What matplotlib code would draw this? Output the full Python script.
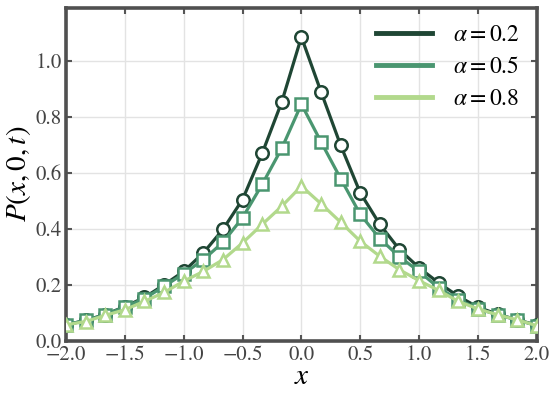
import numpy as np
import matplotlib
matplotlib.use("Agg")
import matplotlib.pyplot as plt
from matplotlib.ticker import FuncFormatter

plt.rcParams['font.family'] = ['STIXGeneral', 'DejaVu Serif']
plt.rcParams['mathtext.fontset'] = 'stix'

x = np.linspace(-2.0, 2.0, 25)

# alpha = 0.2 (circles)
p_a02 = [0.057, 0.073, 0.094, 0.122, 0.155, 0.200, 0.248, 0.314, 0.398, 0.505, 0.670, 0.854,
         1.086,
         0.890, 0.699, 0.529, 0.416, 0.326, 0.261, 0.207, 0.159, 0.120, 0.095, 0.075, 0.056]
# alpha = 0.5 (squares)
p_a05 = [0.057, 0.073, 0.093, 0.121, 0.151, 0.195, 0.240, 0.290, 0.352, 0.440, 0.559, 0.688,
         0.846,
         0.711, 0.580, 0.452, 0.365, 0.300, 0.248, 0.189, 0.147, 0.115, 0.093, 0.075, 0.054]
# alpha = 0.8 (triangles)
p_a08 = [0.057, 0.069, 0.091, 0.111, 0.141, 0.173, 0.213, 0.248, 0.290, 0.350, 0.416, 0.481,
         0.553,
         0.490, 0.424, 0.356, 0.302, 0.254, 0.215, 0.180, 0.141, 0.114, 0.093, 0.075, 0.054]

labels = [r'$\alpha = 0.2$', r'$\alpha = 0.5$', r'$\alpha = 0.8$']
colors = ['#1f4634', '#4a9670', '#b2d98c']
markers = ['o', 's', '^']

fig, ax = plt.subplots(figsize=(5.5, 3.94), dpi=100)
fig.subplots_adjust(left=0.12, right=0.976, bottom=0.135, top=0.98)

for y, c, m, lab in zip([p_a02, p_a05, p_a08], colors, markers, labels):
    ax.plot(x, y, color=c, lw=2.3, marker=m, ms=9, mfc='white', mec=c, mew=1.8, zorder=3)
    ax.plot([], [], color=c, lw=3.5, label=lab)

fmt = FuncFormatter(lambda v, pos: f'{v:.1f}'.replace('-', '\u2212'))
ax.set_xlim(-2.0, 2.0)
ax.set_ylim(0.0, 1.19)
ax.set_xticks(np.arange(-2.0, 2.01, 0.5))
ax.set_yticks(np.arange(0.0, 1.01, 0.2))
ax.xaxis.set_major_formatter(fmt)
ax.yaxis.set_major_formatter(fmt)
ax.grid(True, color='#e3e3e3', lw=1.0, zorder=0)
ax.tick_params(direction='in', top=True, right=True, length=4, width=1.5, color='#555555',
               labelsize=15, labelcolor='#444444', pad=3)
for s in ax.spines.values():
    s.set_linewidth(2.6)
    s.set_color('#505050')

ax.set_xlabel(r'$x$', fontsize=21, labelpad=0)
ax.set_ylabel(r'$P(x,0,t)$', fontsize=21, labelpad=2)

ax.legend(loc='upper right', frameon=False, fontsize=17, handlelength=2.4,
          labelspacing=0.45, borderaxespad=0.3, handletextpad=0.9)

fig.savefig('out.png', dpi=100)
